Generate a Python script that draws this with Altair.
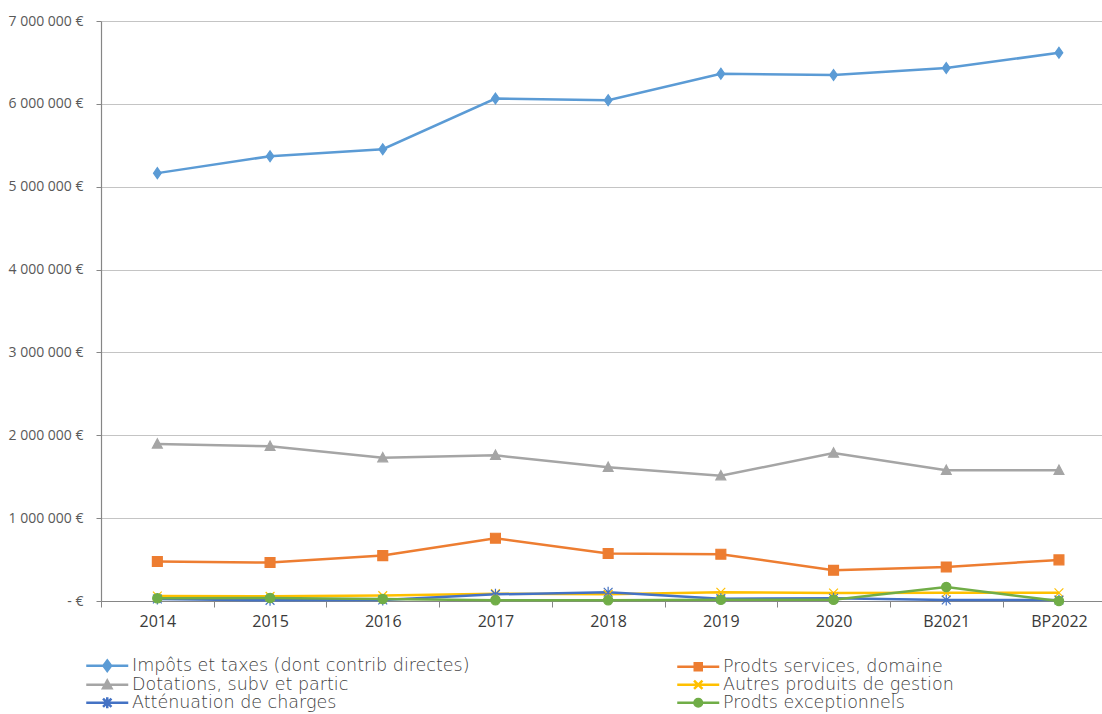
import altair as alt
import pandas as pd

years = ["2014", "2015", "2016", "2017", "2018", "2019", "2020", "B2021", "BP2022"]
series = [
    "Impôts et taxes (dont contrib directes)",
    "Prodts services, domaine",
    "Dotations, subv et partic",
    "Autres produits de gestion",
    "Atténuation de charges",
    "Prodts exceptionnels",
]
impots = [5164000, 5368000, 5452000, 6064000, 6044000, 6364000, 6348000, 6432000, 6616000]
services = [476000, 464000, 548000, 758000, 573000, 565000, 371000, 411000, 496000]
dotations = [1895000, 1867000, 1730000, 1758000, 1613000, 1512000, 1786000, 1577000, 1577000]
autres = [60000, 56000, 65000, 89000, 80000, 105000, 97000, 100000, 100000]
attenuation = [24000, 8000, 12000, 80000, 105000, 28000, 32000, 12000, 12000]
exceptionnels = [32000, 36000, 24000, 8000, 8000, 16000, 16000, 169000, 0]
colors = ["#5B9BD5", "#ED7D31", "#A5A5A5", "#FFC000", "#4472C4", "#70AD47"]
y_ticks = [0, 1000000, 2000000, 3000000, 4000000, 5000000, 6000000, 7000000]

values = [impots, services, dotations, autres, attenuation, exceptionnels]
rows = []
for s, vals in zip(series, values):
    for i, (yr, v) in enumerate(zip(years, vals)):
        rows.append({"series": s, "idx": i, "year": yr, "value": v})
df = pd.DataFrame(rows)

W, H = 1001, 580
XMIN = -0.5
STEP = 112.7
XMAX = XMIN + W / STEP

# marker shapes for the plot (unit box -1..1)
m_diamond = "M0,-1L0.7,0L0,1L-0.7,0Z"
m_square = "M-0.9,-0.9H0.9V0.9H-0.9Z"
m_triangle = "M-0.9,0.75L0,-0.95L0.9,0.75Z"
m_x = "M-0.8,-0.8L0.8,0.8M-0.8,0.8L0.8,-0.8"
m_ast = "M-0.8,-0.8L0.8,0.8M-0.8,0.8L0.8,-0.8M0,-1V1"
m_circle = "M-0.85,0A0.85,0.85,0,1,1,0.85,0A0.85,0.85,0,1,1,-0.85,0Z"
marker_paths = [m_diamond, m_square, m_triangle, m_x, m_ast, m_circle]
# legend symbols: line + marker
L = "M-3,0H3"
legend_paths = [
    L + "M0,-0.75L0.55,0L0,0.75L-0.55,0Z",
    L + "M-0.5,-0.5H0.5V0.5H-0.5Z",
    L + "M-0.6,0.5L0,-0.6L0.6,0.5Z",
    L + "M-0.6,-0.6L0.6,0.6M-0.6,0.6L0.6,-0.6",
    L + "M-0.6,-0.6L0.6,0.6M-0.6,0.6L0.6,-0.6M0,-0.8V0.8",
    L + "M-0.55,0A0.55,0.55,0,1,1,0.55,0A0.55,0.55,0,1,1,-0.55,0Z",
]
# legend is filled column by column: reorder so it reads row by row like the original
leg_order = [0, 2, 4, 1, 3, 5]
leg_domain = [series[i] for i in leg_order]
leg_colors = [colors[i] for i in leg_order]
leg_paths = [legend_paths[i] for i in leg_order]

color_scale = alt.Scale(domain=series, range=colors)
shape_scale = alt.Scale(domain=series, range=marker_paths)
leg_color_scale = alt.Scale(domain=leg_domain, range=leg_colors)
leg_shape_scale = alt.Scale(domain=leg_domain, range=leg_paths)

year_expr = "[" + ",".join("'" + y + "'" for y in years) + "][datum.value]"

x = alt.X(
    "idx:Q",
    scale=alt.Scale(domain=[XMIN, XMAX], nice=False, zero=False),
    axis=alt.Axis(
        values=list(range(len(years))),
        labelExpr=year_expr,
        tickOffset=-STEP / 2,
        labelOffset=STEP / 2,
        grid=False,
        title=None,
        labelFlush=False,
        labelFont="Open Sans",
        labelFontSize=16,
        labelColor="#3a3a3a",
        labelPadding=6,
        tickSize=6,
        tickColor="#868686",
        domainColor="#868686",
        domainWidth=1.2,
    ),
)
y = alt.Y(
    "value:Q",
    scale=alt.Scale(domain=[0, 7000000], nice=False),
    axis=alt.Axis(
        values=y_ticks,
        labelExpr="datum.value == 0 ? '- €' : replace(format(datum.value, ',.0f'), regexp(',', 'g'), ' ') + ' €'",
        title=None,
        labelFont="Open Sans",
        labelFontSize=14,
        labelColor="#595959",
        labelPadding=13,
        labelFlush=False,
        tickSize=5,
        tickColor="#868686",
        domainColor="#868686",
        domainWidth=1.2,
        grid=True,
        gridColor="#C4C4C4",
        gridWidth=1.2,
    ),
)

lines = alt.Chart(df).mark_line(strokeWidth=2.5).encode(
    x=x, y=y, color=alt.Color("series:N", scale=color_scale, legend=None)
)

points = alt.Chart(df).mark_point(opacity=1, size=121, strokeWidth=1.2).encode(
    x=x,
    y=y,
    fill=alt.Fill("series:N", scale=color_scale, legend=None),
    stroke=alt.Stroke("series:N", scale=color_scale, legend=None),
    shape=alt.Shape("series:N", scale=shape_scale, legend=None),
)

leg = alt.Legend(
    title=None,
    orient="none",
    legendX=-2.5,
    legendY=636,
    columns=2,
    columnPadding=201,
    rowPadding=-2,
    symbolSize=196,
    symbolStrokeWidth=2.5,
    labelOffset=16,
    labelFont="DejaVu Sans",
    labelFontSize=17.5,
    labelFontWeight=200,
    labelColor="#404040",
    labelLimit=600,
    padding=0,
)

legend_layer = alt.Chart(df).transform_filter("false").mark_point(opacity=1, strokeWidth=2.5).encode(
    x=x,
    y=y,
    fill=alt.Fill("series:N", scale=leg_color_scale, legend=leg),
    stroke=alt.Stroke("series:N", scale=leg_color_scale, legend=leg),
    shape=alt.Shape("series:N", scale=leg_shape_scale, legend=leg),
)

chart = (
    alt.layer(lines, points, legend_layer)
    .resolve_scale(color="independent", fill="independent", stroke="independent", shape="independent")
    .properties(
        width=W,
        height=H,
        autosize=alt.AutoSizeParams(type="none"),
        padding={"left": 101, "top": 21, "right": 0, "bottom": 113},
        background="white",
    )
    .configure_view(stroke=None)
)

chart.save("out.html", embed_options={"renderer": "svg", "actions": False})
